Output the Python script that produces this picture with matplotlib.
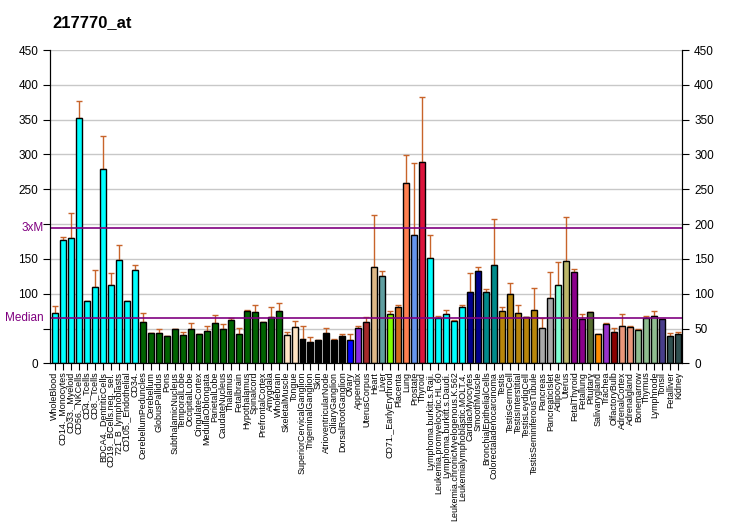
import numpy as np
import matplotlib
matplotlib.use("Agg")
import matplotlib.pyplot as plt

plt.rcParams['font.family'] = ['Liberation Sans', 'DejaVu Sans']

title = "217770_at"

labels = ["WholeBlood", "CD14._Monocytes", "CD33._Myeloid", "CD56._NKCells", "CD4._Tcells",
          "CD8._Tcells", "BDCA4._DentriticCells", "CD19._BCells.neg._sel.", "721_B_lymphoblasts",
          "CD105._Endothelial", "CD34.", "CerebellumPeduncles", "Cerebellum", "GlobusPallidus",
          "Pons", "SubthalamicNucleus", "TemporalLobe", "OccipitalLobe", "CingulateCortex",
          "MedullaOblongata", "ParietalLobe", "CaudateNucleus", "Thalamus", "Fetalbrain",
          "Hypothalamus", "Spinalcord", "PrefrontalCortex", "Amygdala", "Wholebrain",
          "SkeletalMuscle", "Tongue", "SuperiorCervicalGanglion", "TrigeminalGanglion", "Skin",
          "AtrioventricularNode", "CiliaryGanglion", "DorsalRootGanglion", "Ovary", "Appendix",
          "UterusCorpus", "Heart", "Liver", "CD71._EarlyErythroid", "Placenta", "Lung",
          "Prostate", "Thyroid", "Lymphoma.burkitt.s.Raji.", "Leukemia.promyelocytic.HL.60",
          "Lymphoma.burkitt.s.Daudi.", "Leukemia.chronicMyelogenous.K.562",
          "Leukemialymphoblastic.MOLT.4.", "CardiacMyocytes", "SmoothMuscle",
          "BronchialEpithelialCells", "Colorectaladenocarcinoma", "Testis", "TestisGermCell",
          "TestisInterstitial", "TestisLeydigCell", "TestisSeminiferousTubule", "Pancreas",
          "PancreaticIslet", "Adipocyte", "Uterus", "FetalThyroid", "Fetallung", "Pituitary",
          "Salivarygland", "Trachea", "OlfactoryBulb", "AdrenalCortex", "Adrenalgland",
          "Bonemarrow", "Thymus", "Lymphnode", "Tonsil", "Fetalliver", "Kidney"]

values = [72, 177, 180, 353, 89, 109, 279.5, 112, 148, 89, 134,
          59, 44, 43, 39, 49, 40, 49, 42, 46, 58, 50, 62, 42, 75, 73.5, 59, 66, 75,
          40, 52, 34.6, 30.3, 33, 43, 33, 39, 33, 50.4, 59,
          138, 125.4, 70.6, 80.7, 259.4, 184.4, 289.6,
          151.3, 64.8, 70.6, 60.5, 80.7, 102.3, 132.6, 102.3, 141.2,
          75, 99.4, 72, 66.3, 76.4, 50.4, 93.7, 112.4, 147, 131, 63.8, 73.5,
          41.8, 56.2, 44.7, 53.3, 51.9, 47.5, 64.8, 67.7, 63.4, 38.9, 41.8]

err_top = [82, 181.5, 216, 377.5, 89, 134, 327, 129.7, 170, 90, 141,
           72, 44, 49, 39, 50, 44.7, 57.6, 42, 53, 69, 56, 65.7, 50.4, 76.4, 83.6, 59, 80.7, 86.5,
           44.7, 60.5, 53.3, 37.5, 33, 50.4, 34.6, 41.8, 41.8, 53.3, 66,
           213, 132.6, 75, 83.6, 299.7, 288, 383,
           184.4, 67.7, 76.4, 62, 83.6, 129.7, 138.3, 106.6, 207.5,
           80.7, 115.3, 83.6, 66.3, 108, 64.8, 131, 145.5, 210, 135.4, 70.6, 73.5,
           41.8, 57.6, 50.4, 70.6, 53.3, 49, 67.7, 75, 63.4, 43.2, 44.7]

colors = (["#00FFFF"] * 11 + ["#006400"] * 18 + ["#FFE4C4"] * 2 + ["#000000"] * 6 +
          ["#0000FF", "#8A2BE2", "#A52A2A", "#DEB887", "#5F9EA0", "#7FFF00", "#D2691E",
           "#FF7F50", "#6495ED", "#DC143C"] + ["#00FFFF"] * 5 + ["#00008B"] * 2 +
          ["#008B8B"] * 2 + ["#B8860B"] * 5 + ["#A9A9A9"] * 2 +
          ["#7FFFD4", "#BDB76B", "#8B008B", "#8B008B", "#556B2F", "#FF8C00", "#9932CC",
           "#8B0000", "#E9967A", "#E9967A", "#8FBC8F", "#8FBC8F", "#8FBC8F", "#483D8B",
           "#2F4F4F", "#2F4F4F"])

median = 65
yticks = [0, 50, 100, 150, 200, 250, 300, 350, 400, 450]

fig = plt.figure(figsize=(7.32, 5.30), dpi=100)
ax = fig.add_axes([0.0683, 0.3145, 0.8638, 0.5911])

x = np.arange(len(values))
vals = np.array(values)
errs = np.array(err_top) - vals

for yt in yticks[1:]:
    ax.axhline(yt, color="#C8C8C8", lw=1, zorder=0)

ax.bar(x, vals, width=0.75, color=colors, edgecolor="black", linewidth=1, zorder=2)
ax.errorbar(x, vals, yerr=[np.zeros_like(errs), errs], fmt="none", ecolor="#C8642A",
            elinewidth=1, capsize=2.2, capthick=1, zorder=1.5)

ax.axhline(median, color="#800080", lw=1.2, zorder=3)
ax.axhline(3 * median, color="#800080", lw=1.2, zorder=3)

ax.set_xlim(-0.58, len(values) - 0.5)
ax.set_ylim(0, 450)
ax.set_xticks(x)
ax.set_xticklabels(labels, rotation=90, fontsize=6.4)
ax.tick_params(axis="x", length=5, pad=1)

ax.set_yticks(yticks)
ax.set_yticklabels(["" if t in (50, 200) else str(t) for t in yticks], fontsize=8.5)
ax.tick_params(axis="y", length=5)
ax.text(-0.01, median, "Median", color="#800080", fontsize=8.5, ha="right", va="center",
        transform=ax.get_yaxis_transform())
ax.text(-0.01, 3 * median, "3xM", color="#800080", fontsize=8.5, ha="right", va="center",
        transform=ax.get_yaxis_transform())

ax.spines["top"].set_visible(False)

ax2 = ax.twinx()
ax2.set_ylim(0, 450)
ax2.set_yticks(yticks)
ax2.set_yticklabels([str(t) for t in yticks], fontsize=8.5)
ax2.tick_params(axis="y", length=5)
ax2.spines["top"].set_visible(False)

fig.text(0.072, 0.958, title, fontsize=12, fontweight="bold", ha="left", va="center")

fig.savefig("out.png", dpi=100)
